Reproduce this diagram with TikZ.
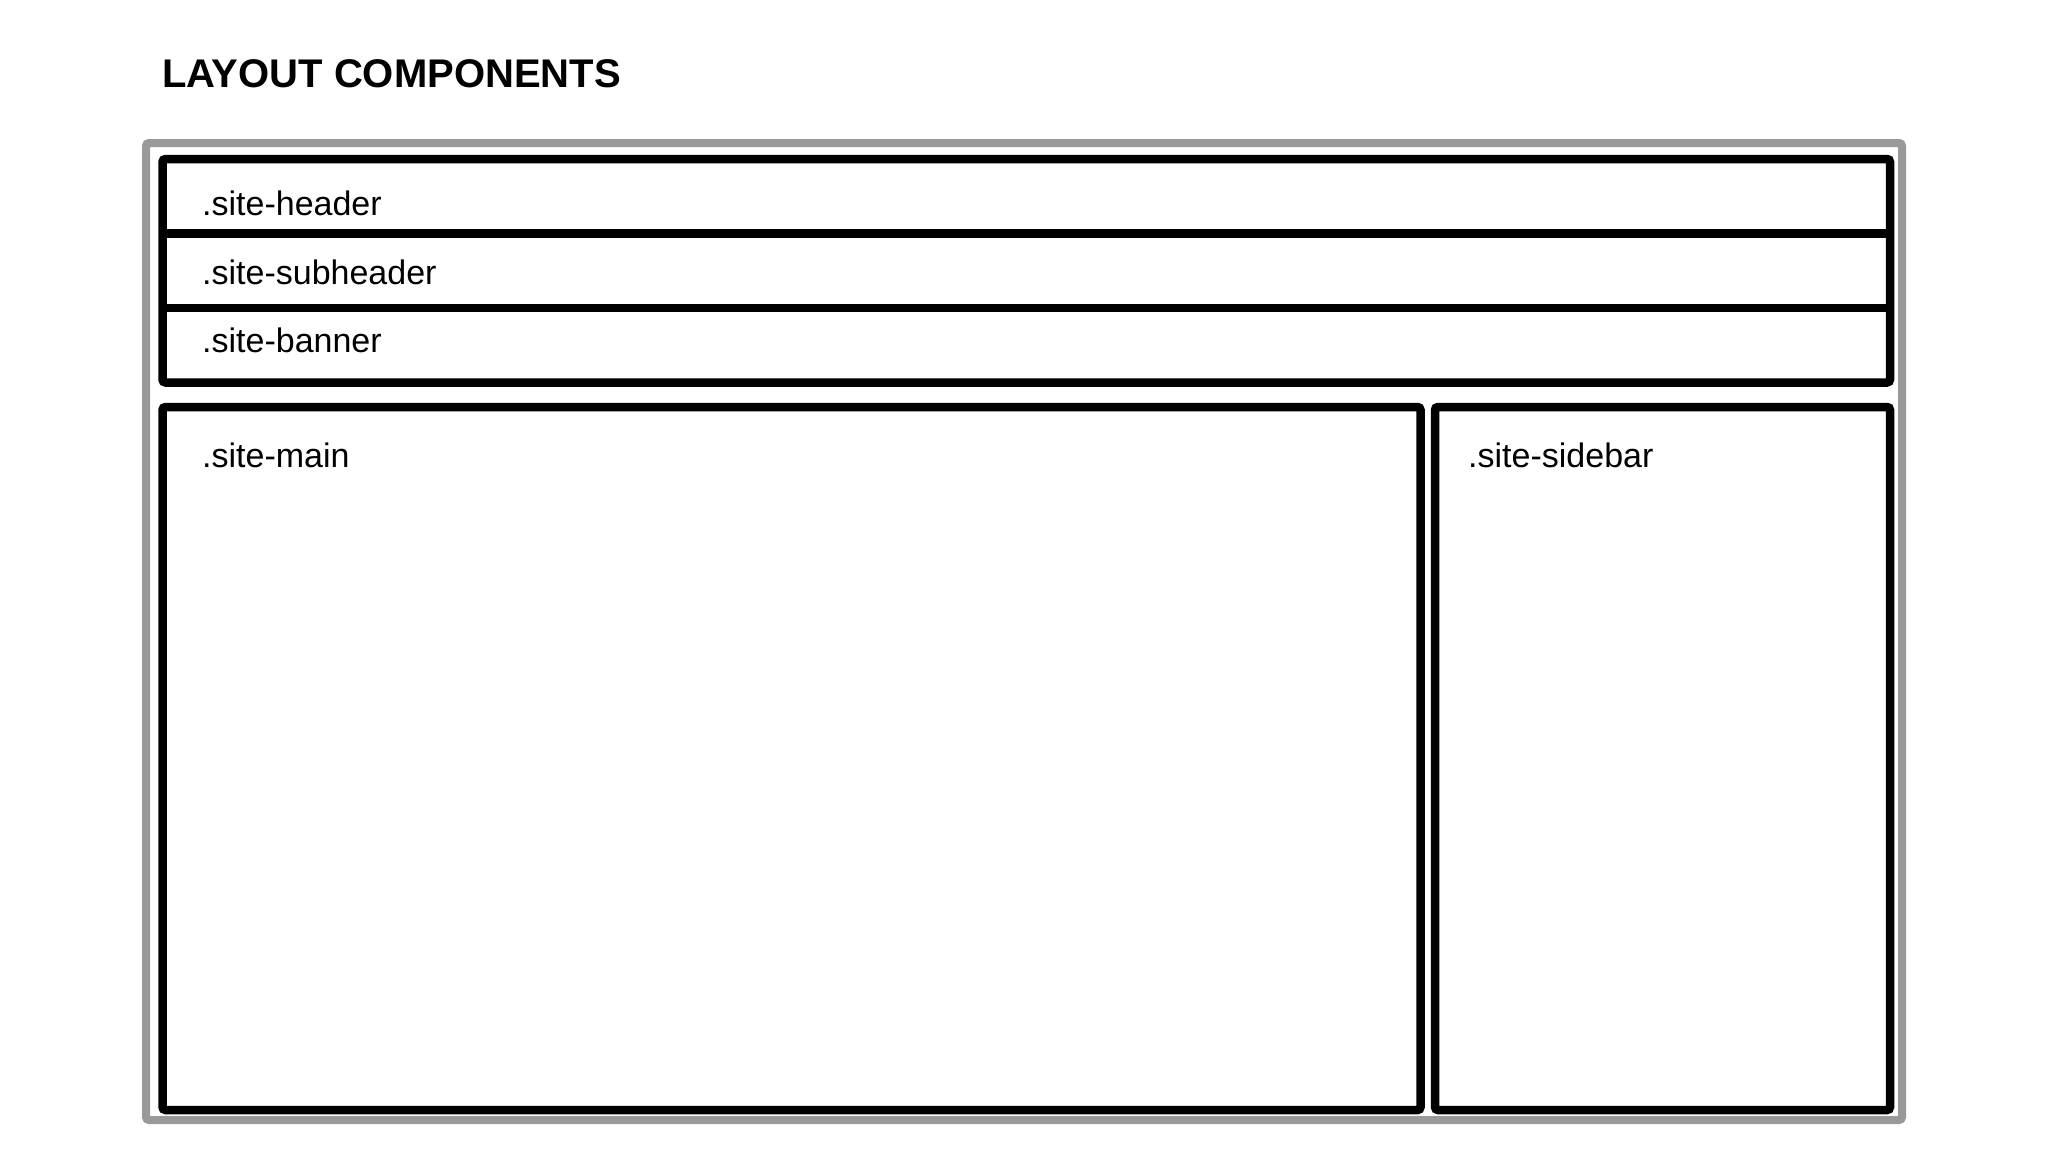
\documentclass[tikz,border=0pt]{standalone}
\usepackage{fontspec}
\setmainfont{Liberation Sans}
\begin{document}
\begin{tikzpicture}[x=1pt, y=-1pt]
 \tikzstyle{frame}=[draw=black!40, line width=8pt, rounded corners=3pt]
 \tikzstyle{block}=[draw=black, line width=8.5pt, rounded corners=3pt]
 \tikzstyle{divider}=[draw=black, line width=8.5pt]
 \tikzstyle{title}=[anchor=base west, inner sep=0pt, font=\fontsize{40}{48}\selectfont\bfseries]
 \tikzstyle{label}=[anchor=base west, inner sep=0pt, font=\fontsize{34}{40}\selectfont]
 %
 \useasboundingbox[fill=white] (0,0) rectangle (2048,1152);
 %
 \node[title] (Title) at (162, 87) {LAYOUT COMPONENTS};
 %
 \draw[frame] (146, 143) rectangle (1902, 1120);
 %
 \draw[block] (162.5, 159) rectangle (1890, 382.5);
 \draw[divider] (162.5, 233.5) -- (1890, 233.5);
 \draw[divider] (162.5, 308) -- (1890, 308);
 \draw[block] (162.5, 407) rectangle (1420.5, 1110);
 \draw[block] (1435, 407) rectangle (1890, 1110);
 %
 \node[label] (Header) at (202, 215) {.site-header};
 \node[label] (Subheader) at (202, 284) {.site-subheader};
 \node[label] (Banner) at (202, 352) {.site-banner};
 \node[label] (Main) at (202, 467) {.site-main};
 \node[label] (Sidebar) at (1468, 467) {.site-sidebar};
\end{tikzpicture}
\end{document}
